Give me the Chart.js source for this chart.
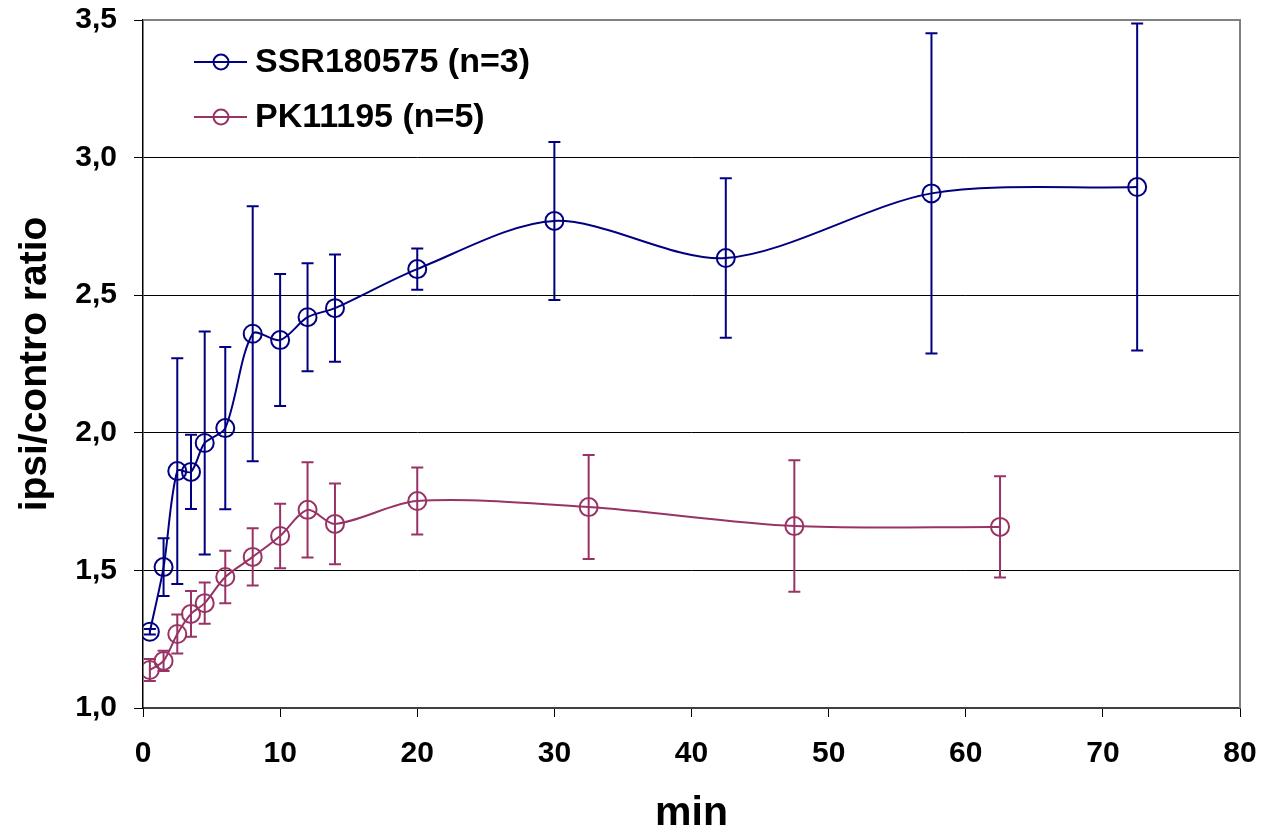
<!DOCTYPE html>
<html>
<head>
<meta charset="utf-8">
<script src="https://cdn.jsdelivr.net/npm/chart.js@4.4.1/dist/chart.umd.min.js"></script>
<style>
    body { margin: 0; background: #fff; }
</style>
</head>
<body>
<canvas id="ratio-chart" width="1263" height="838"></canvas>
<script>
// SSR180575 (n=3)
const ssrTimes = [0.5, 1.5, 2.5, 3.5, 4.5, 6, 8, 10, 12, 14, 20, 30, 42.5, 57.5, 72.5]
const ssrMeans = [1.277, 1.512, 1.861, 1.858, 1.963, 2.017, 2.36, 2.337, 2.42, 2.453, 2.595, 2.77, 2.635, 2.87, 2.893]
const ssrErrors = [0.01, 0.105, 0.41, 0.135, 0.405, 0.295, 0.463, 0.24, 0.196, 0.195, 0.075, 0.287, 0.29, 0.582, 0.594]

// PK11195 (n=5)
const pkTimes = [0.5, 1.5, 2.5, 3.5, 4.5, 6, 8, 10, 12, 14, 20, 32.5, 47.5, 62.5]
const pkMeans = [1.138, 1.171, 1.269, 1.342, 1.381, 1.476, 1.549, 1.625, 1.72, 1.669, 1.752, 1.73, 1.661, 1.658]
const pkErrors = [0.04, 0.037, 0.071, 0.083, 0.075, 0.095, 0.104, 0.117, 0.173, 0.147, 0.122, 0.189, 0.239, 0.184]

const seriesLabels = ['SSR180575 (n=3)', 'PK11195 (n=5)']
const seriesColors = ['#000080', '#993366']

const xTicks = [0, 10, 20, 30, 40, 50, 60, 70, 80]
const yTicks = [1.0, 1.5, 2.0, 2.5, 3.0, 3.5]

const seriesErrors = [ssrErrors, pkErrors]

Chart.defaults.font.family = "'Liberation Sans', Arial, sans-serif"
Chart.defaults.font.weight = 'bold'
Chart.defaults.color = '#000'

// vertical error bars, drawn through the y scale
const errorBars = {
    id: 'errorBars',
    afterDatasetsDraw(chart) {
        let ctx = chart.ctx
        let yScale = chart.scales.y
        chart.data.datasets.forEach((ds, i) => {
            let meta = chart.getDatasetMeta(i)
            ctx.save()
            ctx.strokeStyle = seriesColors[i]
            ctx.lineWidth = 2
            meta.data.forEach((pt, j) => {
                let v = ds.data[j].y
                let e = seriesErrors[i][j]
                let top = yScale.getPixelForValue(v + e)
                let bottom = yScale.getPixelForValue(v - e)
                ctx.beginPath()
                ctx.moveTo(pt.x, top)
                ctx.lineTo(pt.x, bottom)
                ctx.moveTo(pt.x - 6, top)
                ctx.lineTo(pt.x + 6, top)
                ctx.moveTo(pt.x - 6, bottom)
                ctx.lineTo(pt.x + 6, bottom)
                ctx.stroke()
            })
            ctx.restore()
        })
    }
}

// legend inside the plot + grey top/right frame
const frameAndLegend = {
    id: 'frameAndLegend',
    afterDraw(chart) {
        let ctx = chart.ctx
        let area = chart.chartArea
        ctx.save()
        ctx.strokeStyle = '#808080'
        ctx.lineWidth = 2
        ctx.beginPath()
        ctx.moveTo(area.left, area.top)
        ctx.lineTo(area.right, area.top)
        ctx.lineTo(area.right, area.bottom)
        ctx.stroke()

        seriesLabels.forEach((label, i) => {
            let y = 62 + i * 55
            ctx.strokeStyle = seriesColors[i]
            ctx.lineWidth = 2
            ctx.beginPath()
            ctx.moveTo(194, y)
            ctx.lineTo(247, y)
            ctx.stroke()
            ctx.beginPath()
            ctx.arc(221, y, 7.5, 0, Math.PI * 2)
            ctx.stroke()
            ctx.fillStyle = '#000'
            ctx.font = "bold 34px 'Liberation Sans', Arial, sans-serif"
            ctx.textBaseline = 'middle'
            ctx.fillText(label, 255, y + 1)
        })
        ctx.restore()
    }
}

function makeSeries(times, means, i) {
    return {
        label: seriesLabels[i],
        data: times.map((t, k) => ({ x: t, y: means[k] })),
        borderColor: seriesColors[i],
        backgroundColor: 'transparent',
        borderWidth: 2,
        pointRadius: 9,
        pointBorderWidth: 2,
        pointBackgroundColor: 'transparent',
        pointBorderColor: seriesColors[i],
        tension: 0.3
    }
}

let ratioChart = new Chart(document.getElementById('ratio-chart').getContext('2d'), {
    type: 'line',
    data: {
        datasets: [
            makeSeries(ssrTimes, ssrMeans, 0),
            makeSeries(pkTimes, pkMeans, 1)
        ]
    },
    options: {
        responsive: false,
        animation: false,
        layout: { padding: { top: 20, right: 23, left: 0, bottom: 0 } },
        plugins: {
            legend: { display: false },
            tooltip: { enabled: false }
        },
        scales: {
            x: {
                type: 'linear',
                min: 0,
                max: 80,
                afterFit: scale => {
                    scale.height = 130
                    scale.paddingLeft = 0
                    scale.paddingRight = 0
                },
                afterBuildTicks: scale => { scale.ticks = xTicks.map(v => ({ value: v })) },
                ticks: { font: { size: 30 }, padding: 19, maxRotation: 0 },
                grid: { drawOnChartArea: false, tickLength: 9, tickColor: '#000', tickWidth: 1 },
                border: { color: '#404040', width: 2 },
                title: {
                    display: true,
                    text: 'min',
                    font: { size: 41 },
                    padding: { top: 0, bottom: 0 }
                }
            },
            y: {
                min: 1,
                max: 3.5,
                afterFit: scale => {
                    scale.width = 143
                    scale.paddingTop = 0
                    scale.paddingBottom = 0
                },
                afterBuildTicks: scale => { scale.ticks = yTicks.map(v => ({ value: v })) },
                ticks: {
                    font: { size: 30 },
                    padding: 17,
                    callback: v => v.toFixed(1).replace('.', ',')
                },
                grid: {
                    color: ctx => (ctx.tick && ctx.tick.value === 3.5) ? '#808080' : '#000',
                    lineWidth: 1,
                    tickLength: 9,
                    tickColor: '#000'
                },
                border: { color: '#000', width: 1.5 },
                title: {
                    display: true,
                    text: 'ipsi/contro ratio',
                    font: { size: 39 },
                    padding: { top: 12, bottom: 0 }
                }
            }
        }
    },
    plugins: [errorBars, frameAndLegend]
})
</script>
</body>
</html>
